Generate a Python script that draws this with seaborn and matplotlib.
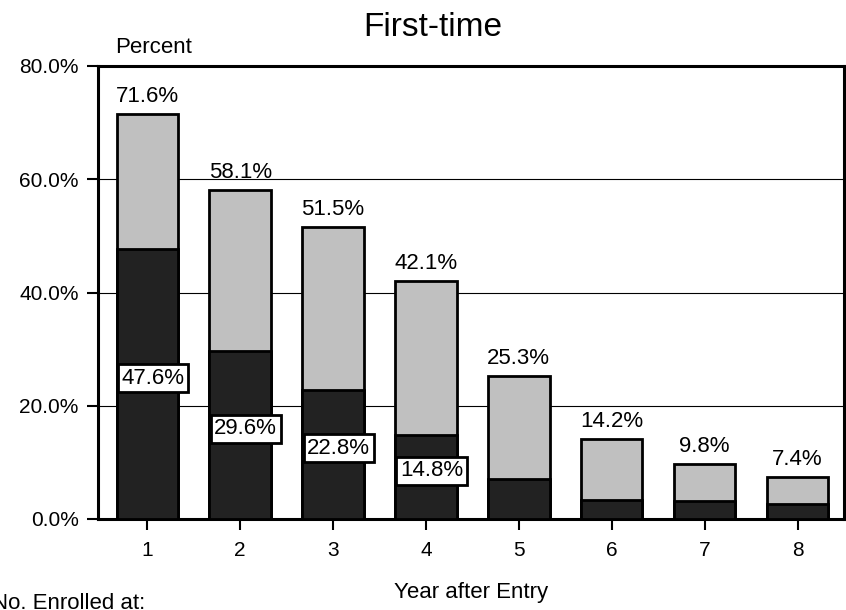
import pandas as pd
import matplotlib.pyplot as plt
import seaborn as sns

# values
years = ["1", "2", "3", "4", "5", "6", "7", "8"]
total_pct = [71.6, 58.1, 51.5, 42.1, 25.3, 14.2, 9.8, 7.4]
same_pct = [47.6, 29.6, 22.8, 14.8, 7.0, 3.4, 3.1, 2.7]
same_labels = ["47.6%", "29.6%", "22.8%", "14.8%", None, None, None, None]

df = pd.DataFrame({"Year": years, "Total": total_pct, "Same": same_pct})

sns.set_theme(style="white", rc={"text.color": "black", "xtick.color": "black",
                                 "ytick.color": "black", "axes.labelcolor": "black"})
plt.rcParams['font.family'] = ['Liberation Sans', 'DejaVu Sans']

fig = plt.figure(figsize=(8.46, 6.10), dpi=100)
ax = fig.add_axes([98 / 846, 1 - 519 / 610, 746 / 846, 453 / 610])

# light bars = all enrolled, dark bars drawn over them
sns.barplot(data=df, x="Year", y="Total", color="#c0c0c0", saturation=1,
            width=0.66, edgecolor="black", linewidth=2.0, ax=ax, zorder=3)
sns.barplot(data=df, x="Year", y="Same", color="#222222", saturation=1,
            width=0.66, edgecolor="black", linewidth=2.0, ax=ax, zorder=4)

ax.set_xlim(-0.53, 7.5)
ax.set_ylim(0, 80)
ax.set_yticks([0, 20, 40, 60, 80])
ax.set_yticklabels(["0.0%", "20.0%", "40.0%", "60.0%", "80.0%"])

# thin horizontal gridlines
for v in [20, 40, 60]:
    ax.axhline(v, color="black", linewidth=0.8, zorder=1)

for side in ["left", "right", "top", "bottom"]:
    ax.spines[side].set_visible(True)
    ax.spines[side].set_color("black")
    ax.spines[side].set_linewidth(2.2)

ax.tick_params(axis="both", which="both", direction="out", length=8, width=1.5,
               color="black", labelsize=15, labelcolor="black", pad=6)
ax.tick_params(axis="y", left=True)
ax.tick_params(axis="x", bottom=True, pad=8)

# total labels above each bar
for i, v in enumerate(total_pct):
    ax.text(i, v + 2.1, f"{v:.1f}%", ha="center", va="baseline", fontsize=16,
            color="black", zorder=5)

# boxed labels inside the dark bars
for i, (v, lab) in enumerate(zip(same_pct, same_labels)):
    if lab is None:
        continue
    ax.text(i + 0.06, v / 2 + 1.1, lab, ha="center", va="center", fontsize=16,
            color="black", zorder=6,
            bbox=dict(boxstyle="square,pad=0.16", facecolor="white",
                      edgecolor="black", linewidth=2.0))

ax.set_xlabel("")
ax.set_ylabel("")
ax.set_title("")

fig.text(433 / 846, 1 - 36 / 610, "First-time", ha="center", va="baseline", fontsize=24)
fig.text(115 / 846, 1 - 53 / 610, "Percent", ha="left", va="baseline", fontsize=16)
fig.text(471 / 846, 1 - 598 / 610, "Year after Entry", ha="center", va="baseline", fontsize=16)
fig.text(145 / 846, 1 - 609 / 610, "No. Enrolled at:", ha="right", va="baseline", fontsize=16)

fig.savefig("out.png", dpi=100)
